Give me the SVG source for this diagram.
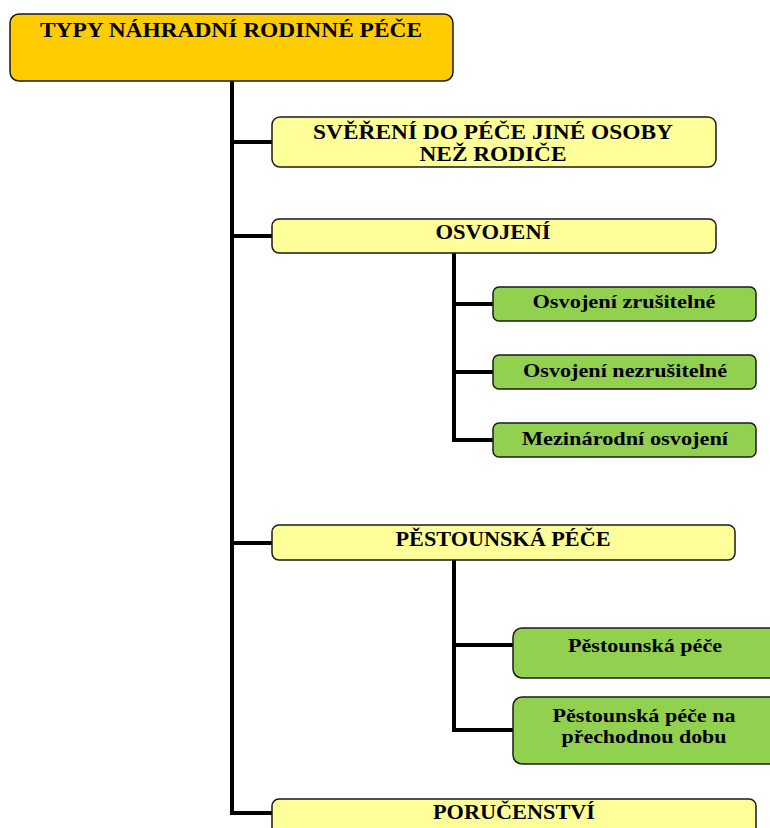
<svg xmlns="http://www.w3.org/2000/svg" width="770" height="828" viewBox="0 0 770 828">
<style>
.box{stroke:#1a1a1a;stroke-width:1.5}
.top{fill:#FFCC00}
.yel{fill:#FFFF99}
.grn{fill:#92D050}
.t{font-family:"Liberation Serif","Times New Roman",serif;font-weight:bold;fill:#000;text-anchor:middle}
.h{font-size:21px}
.s{font-size:19px}
.c{stroke:#000;stroke-width:4;fill:none}
</style>
<rect width="770" height="828" fill="#fff"/>
<g id="connectors">
<path class="c" d="M232 81 V813 H272"/>
<path class="c" d="M232 142 H272 M232 236 H272 M232 543 H272"/>
<path class="c" d="M454 253 V440 H493 M454 304 H493 M454 372 H493"/>
<path class="c" d="M454 560 V730 H513 M454 645 H513"/>
</g>
<g id="n-root"><rect class="box top" x="10" y="14" width="443" height="67" rx="9"/><text class="t h" x="231" y="37" textLength="382" lengthAdjust="spacingAndGlyphs">TYPY NÁHRADNÍ RODINNÉ PÉČE</text></g>
<g id="n-sverani"><rect class="box yel" x="272" y="117" width="444" height="50" rx="8"/><text class="t h" x="493" y="139" textLength="360" lengthAdjust="spacingAndGlyphs">SVĚŘENÍ DO PÉČE JINÉ OSOBY</text><text class="t h" x="493" y="161" textLength="147" lengthAdjust="spacingAndGlyphs">NEŽ RODIČE</text></g>
<g id="n-osvojeni"><rect class="box yel" x="272" y="219" width="444" height="34" rx="7"/><text class="t h" x="493" y="239" textLength="115" lengthAdjust="spacingAndGlyphs">OSVOJENÍ</text></g>
<g id="n-zrus"><rect class="box grn" x="493" y="287" width="263" height="34" rx="6"/><text class="t s" x="624" y="308" textLength="183" lengthAdjust="spacingAndGlyphs">Osvojení zrušitelné</text></g>
<g id="n-nezrus"><rect class="box grn" x="493" y="355" width="263" height="34" rx="6"/><text class="t s" x="625" y="377" textLength="204" lengthAdjust="spacingAndGlyphs">Osvojení nezrušitelné</text></g>
<g id="n-mezi"><rect class="box grn" x="493" y="423" width="263" height="34" rx="6"/><text class="t s" x="625" y="445" textLength="206" lengthAdjust="spacingAndGlyphs">Mezinárodní osvojení</text></g>
<g id="n-pestoun"><rect class="box yel" x="272" y="525" width="463" height="35" rx="7"/><text class="t h" x="503" y="546" textLength="215" lengthAdjust="spacingAndGlyphs">PĚSTOUNSKÁ PÉČE</text></g>
<g id="n-pp"><rect class="box grn" x="513" y="628" width="270" height="50" rx="9"/><text class="t s" x="645" y="652" textLength="154" lengthAdjust="spacingAndGlyphs">Pěstounská péče</text></g>
<g id="n-ppd"><rect class="box grn" x="513" y="697" width="270" height="67" rx="9"/><text class="t s" x="644" y="722" textLength="183" lengthAdjust="spacingAndGlyphs">Pěstounská péče na</text><text class="t s" x="644" y="743" textLength="165" lengthAdjust="spacingAndGlyphs">přechodnou dobu</text></g>
<g id="n-poruc"><rect class="box yel" x="272" y="799" width="484" height="50" rx="7"/><text class="t h" x="514" y="819" textLength="162" lengthAdjust="spacingAndGlyphs">PORUČENSTVÍ</text></g>
</svg>
